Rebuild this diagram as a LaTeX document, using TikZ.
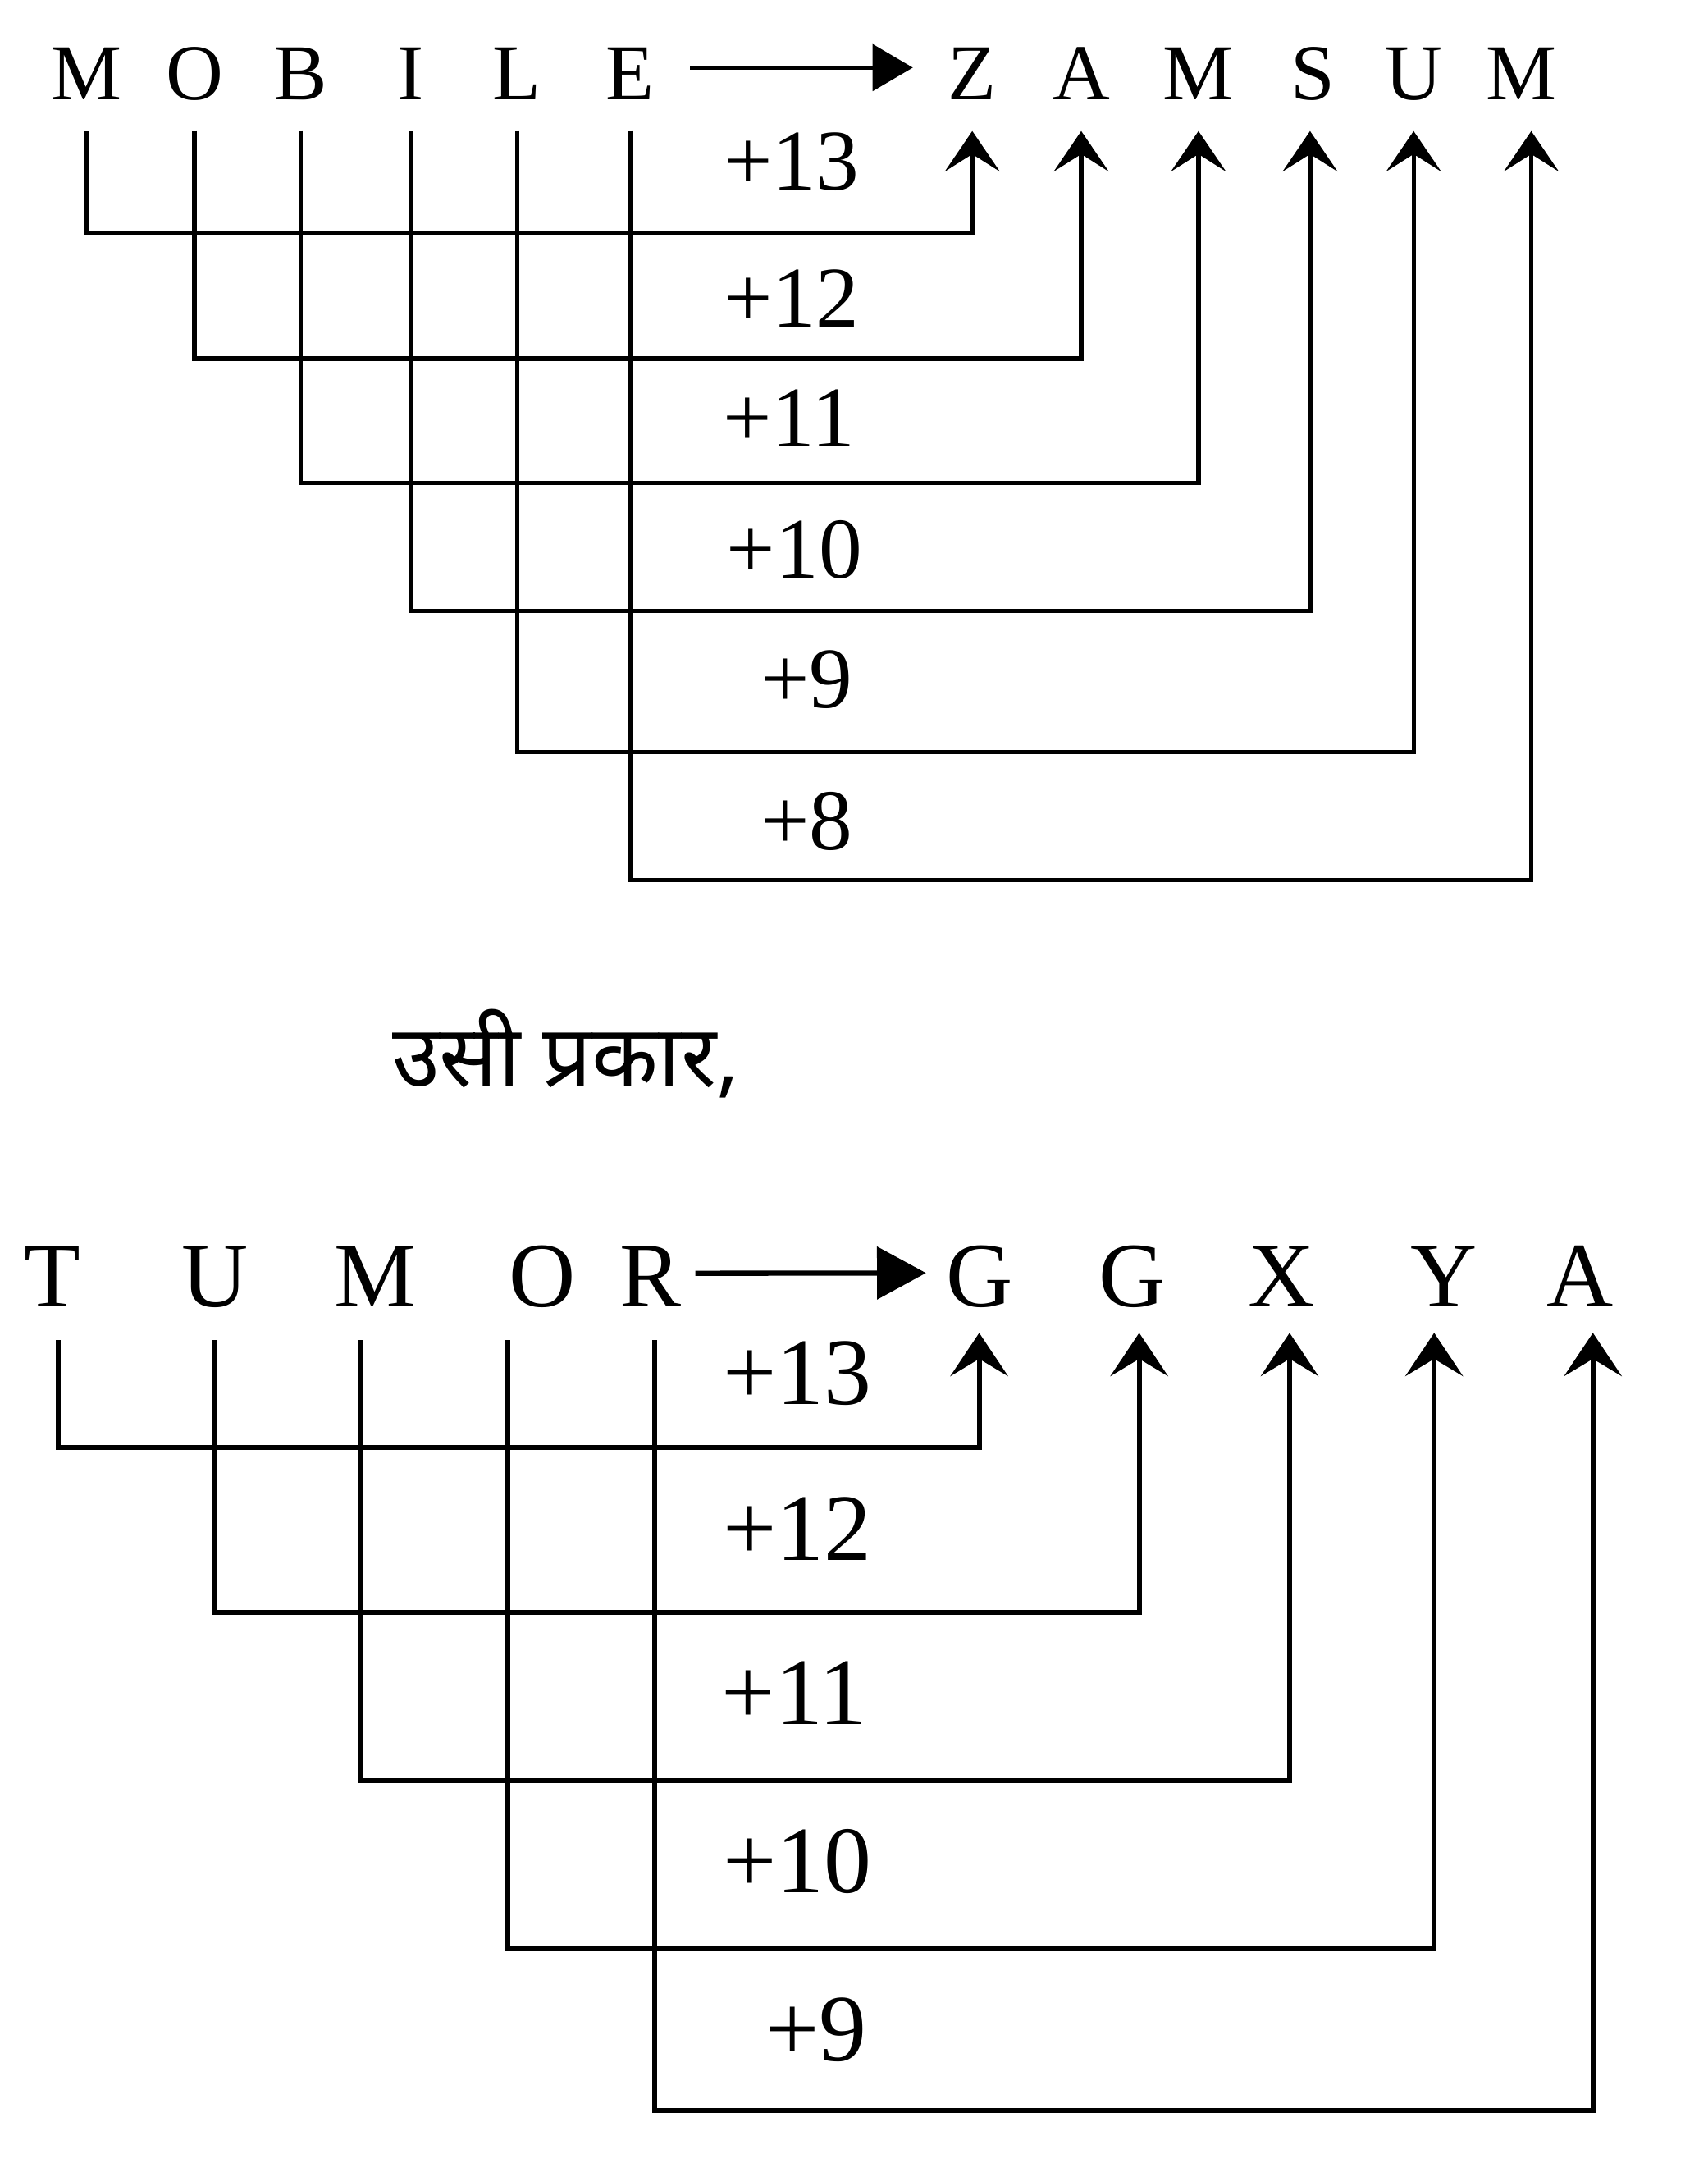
\documentclass[tikz,border=0pt]{standalone}
\usepackage{fontspec}
\setmainfont{Liberation Serif}
\newfontfamily\hindi[Script=Devanagari]{Noto Sans}
\usetikzlibrary{arrows.meta}
\begin{document}
\begin{tikzpicture}[x=0.016818cm,y=-0.016818cm,
  lettA/.style={inner sep=0pt,text depth=0pt,anchor=base,font=\fontsize{27.5}{30}\selectfont},
  lettB/.style={inner sep=0pt,text depth=0pt,anchor=base,font=\fontsize{32}{34}\selectfont},
  labA/.style={inner sep=0pt,text depth=0pt,font=\fontsize{30}{32}\selectfont},
  labB/.style={inner sep=0pt,text depth=0pt,font=\fontsize{33}{35}\selectfont},
  connA/.style={line width=1.5pt,-{Stealth[length=14pt,width=19pt,inset=6pt]},shorten <=10.8pt,shorten >=10.8pt},
  connB/.style={line width=1.7pt,-{Stealth[length=15pt,width=20pt,inset=6pt]},shorten <=11.5pt,shorten >=9pt},
  mainA/.style={line width=1.6pt,-{Triangle[length=14pt,width=16pt]}},
  mainB/.style={line width=1.8pt,-{Triangle[length=17pt,width=18pt]}}]
\useasboundingbox (0,0) rectangle (1238,1568);

% ---------- top diagram ----------
\node[lettA] (m1) at (63,72) {M};
\node[lettA] (m2) at (141,72) {O};
\node[lettA] (m3) at (218,72) {B};
\node[lettA] (m4) at (298,72) {I};
\node[lettA] (m5) at (375,72) {L};
\node[lettA] (m6) at (457,72) {E};
\node[lettA] (z1) at (705,72) {Z};
\node[lettA] (z2) at (784,72) {A};
\node[lettA] (z3) at (869,72) {M};
\node[lettA] (z4) at (952,72) {S};
\node[lettA] (z5) at (1025,72) {U};
\node[lettA] (z6) at (1103,72) {M};

\draw[mainA,shorten <=12pt,shorten >=12pt] ([yshift=2pt]m6.east) -- ([yshift=2pt]z1.west);

\coordinate (ha1) at (0,168.5);
\coordinate (ha2) at (0,260);
\coordinate (ha3) at (0,350);
\coordinate (ha4) at (0,443);
\coordinate (ha5) at (0,545);
\coordinate (ha6) at (0,638);

\draw[connA] (m1.south) -- (m1.south |- ha1) -| (z1.south);
\draw[connA] (m2.south) -- (m2.south |- ha2) -| (z2.south);
\draw[connA] (m3.south) -- (m3.south |- ha3) -| (z3.south);
\draw[connA] (m4.south) -- (m4.south |- ha4) -| ([xshift=-1pt]z4.south);
\draw[connA] (m5.south) -- (m5.south |- ha5) -| (z5.south);
\draw[connA] (m6.south) -- (m6.south |- ha6) -| ([xshift=3.5pt]z6.south);

\node[labA] (la1) at (574,117) {+13};
\node[labA] (la2) at (574,216) {+12};
\node[labA] (la3) at (572,303) {+11};
\node[labA] (la4) at (576,398) {+10};
\node[labA] (la5) at (585,492) {+9};
\node[labA] (la6) at (585,595) {+8};

% ---------- middle text ----------
\node[inner sep=0pt,anchor=west,font=\hindi\fontsize{30}{33}\selectfont] (mid) at (284,764) {उसी प्रकार,};

% ---------- bottom diagram ----------
\node[lettB] (t1) at (38,947) {T};
\node[lettB] (t2) at (156,947) {U};
\node[lettB] (t3) at (272,947) {M};
\node[lettB] (t4) at (393,947) {O};
\node[lettB] (t5) at (472,947) {R};
\node[lettB] (g1) at (710,947) {G};
\node[lettB] (g2) at (821,947) {G};
\node[lettB] (g3) at (929,947) {X};
\node[lettB] (g4) at (1047,947) {Y};
\node[lettB] (g5) at (1146,947) {A};

\draw[mainB,shorten <=4.5pt,shorten >=6.7pt] ([yshift=1pt]t5.east) -- ([yshift=1pt]g1.west);

\coordinate (hb1) at (0,1049);
\coordinate (hb2) at (0,1169);
\coordinate (hb3) at (0,1291);
\coordinate (hb4) at (0,1413);
\coordinate (hb5) at (0,1530);

\draw[connB] ([xshift=2pt]t1.south) -- ([xshift=2pt]t1.south |- hb1) -| (g1.south);
\draw[connB] (t2.south) -- (t2.south |- hb2) -| ([xshift=2.4pt]g2.south);
\draw[connB] ([xshift=-5.3pt]t3.south) -- ([xshift=-5.3pt]t3.south |- hb3) -| ([xshift=2.9pt]g3.south);
\draw[connB] ([xshift=-12pt]t4.south) -- ([xshift=-12pt]t4.south |- hb4) -| ([xshift=-3.4pt]g4.south);
\draw[connB] ([xshift=1.4pt]t5.south) -- ([xshift=1.4pt]t5.south |- hb5) -| ([xshift=4.3pt]g5.south);

\node[labB] (lb1) at (578,995) {+13};
\node[labB] (lb2) at (578,1108) {+12};
\node[labB] (lb3) at (576,1227) {+11};
\node[labB] (lb4) at (578,1349) {+10};
\node[labB] (lb5) at (592,1471) {+9};
\end{tikzpicture}
\end{document}
